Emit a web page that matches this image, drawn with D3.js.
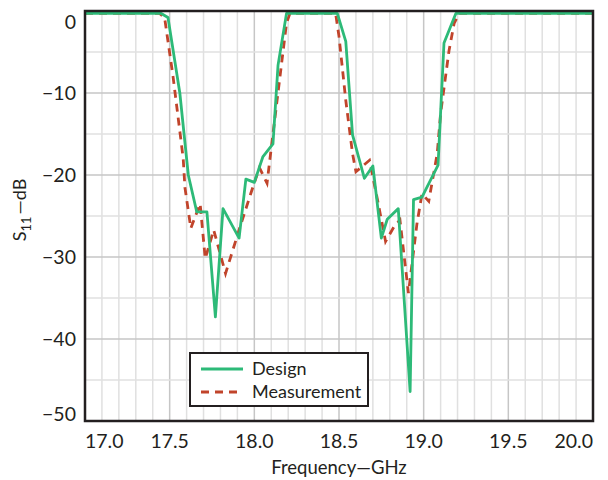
<!DOCTYPE html>
<html>
<head>
<meta charset="utf-8">
<script src="https://cdn.jsdelivr.net/npm/d3@7"></script>
<style>
  body { margin: 0; background: #fff; }
  svg text { font-family: Lato, "Liberation Sans", sans-serif; fill: #231f20; }
</style>
</head>
<body>
<div id="chart"></div>
<script>
// S11 response (GHz, dB)
const designFreq = [17.00, 17.45, 17.49, 17.56, 17.585, 17.61, 17.66, 17.72, 17.77, 17.815, 17.91, 17.95, 18.00, 18.05, 18.11, 18.14, 18.19,
  18.49, 18.54, 18.58, 18.65, 18.70, 18.75, 18.785, 18.85, 18.92, 18.94, 18.99, 19.085, 19.12, 19.19, 20.00]
const designS11 = [-0.3, -0.3, -0.8, -10, -15, -20, -24.5, -24.5, -37.3, -24.1, -27.7, -20.5, -20.9, -17.8, -16.2, -6.6, -0.3,
  -0.3, -3.7, -15.1, -20.4, -18.9, -27.7, -25.4, -24.1, -46.4, -23.0, -22.7, -18.8, -3.9, -0.3, -0.3]

const measFreq = [17.00, 17.44, 17.47, 17.52, 17.58, 17.59, 17.625, 17.68, 17.71, 17.76, 17.83, 17.91, 17.98, 18.03, 18.075, 18.11, 18.19, 18.21,
  18.48, 18.50, 18.54, 18.58, 18.60, 18.68, 18.73, 18.775, 18.825, 18.86, 18.91, 18.96, 18.99, 19.03, 19.08, 19.10, 19.15, 19.18, 19.21, 20.00]
const measS11 = [-0.3, -0.3, -0.8, -8, -18, -21.5, -26.5, -23.5, -30.2, -26.7, -32, -26.7, -22.2, -19.1, -21, -15, -1.5, -0.3,
  -0.3, -3.1, -10.9, -17.4, -19.6, -18.2, -23.3, -28.1, -26.3, -25.5, -34.4, -26, -22.3, -23.2, -17.4, -12.5, -4.8, -1.5, -0.3, -0.3]

const xTicks = [17.0, 17.5, 18.0, 18.5, 19.0, 19.5, 20.0]
const yTicks = [0, -10, -20, -30, -40, -50]

const W = 608, H = 480
const margin = {top: 11, right: 15, bottom: 59, left: 85}

const svg = d3.select('#chart').append('svg')
  .attr('width', W)
  .attr('height', H)

const x = d3.scaleLinear().domain([17, 20]).range([margin.left, W - margin.right])
const y = d3.scaleLinear().domain([-50, 0]).range([H - margin.bottom, margin.top])

// grid: light every 0.1 GHz / 5 dB, a bit darker on the labelled ticks
const grid = svg.append('g')
grid.selectAll('line.vx')
  .data(d3.range(171, 200).map(d => d / 10))
  .enter().append('line')
  .attr('x1', d => x(d)).attr('x2', d => x(d))
  .attr('y1', y(0)).attr('y2', y(-50))
  .attr('stroke', d => Math.abs(d * 2 - Math.round(d * 2)) < 1e-6 ? '#c6c6c6' : '#e0e0e0')
  .attr('stroke-width', 1.5)
grid.selectAll('line.hy')
  .data([-5, -10, -15, -20, -25, -30, -35, -40, -45])
  .enter().append('line')
  .attr('x1', x(17)).attr('x2', x(20))
  .attr('y1', d => y(d)).attr('y2', d => y(d))
  .attr('stroke', d => d % 10 === 0 ? '#c6c6c6' : '#e0e0e0')
  .attr('stroke-width', 1.5)

// curves
const line = d3.line().x(d => x(d[0])).y(d => y(d[1]))

svg.append('path')
  .datum(measFreq.map((f, i) => [f, measS11[i]]))
  .attr('d', line)
  .attr('fill', 'none')
  .attr('stroke', '#c1442b')
  .attr('stroke-width', 2.8)
  .attr('stroke-dasharray', '8,6')

svg.append('path')
  .datum(designFreq.map((f, i) => [f, designS11[i]]))
  .attr('d', line)
  .attr('fill', 'none')
  .attr('stroke', '#2dba78')
  .attr('stroke-width', 2.8)
  .attr('stroke-linejoin', 'round')

// frame
svg.append('rect')
  .attr('x', x(17)).attr('y', y(0))
  .attr('width', x(20) - x(17)).attr('height', y(-50) - y(0))
  .attr('fill', 'none')
  .attr('stroke', '#231f20')
  .attr('stroke-width', 2.5)

// tick labels (end ones pulled inside like the original)
const fmtX = d3.format('.1f')
svg.append('g').selectAll('text')
  .data(xTicks)
  .enter().append('text')
  .attr('x', d => x(d))
  .attr('y', H - margin.bottom + 27)
  .attr('text-anchor', (d, i) => i === 0 ? 'start' : i === xTicks.length - 1 ? 'end' : 'middle')
  .style('font-size', '19.5px')
  .text(d => fmtX(d))

svg.append('g').selectAll('text')
  .data(yTicks)
  .enter().append('text')
  .attr('x', margin.left - 9)
  .attr('y', d => y(d))
  .attr('dy', (d, i) => i === 0 ? '0.9em' : i === yTicks.length - 1 ? '0' : '0.36em')
  .attr('text-anchor', 'end')
  .style('font-size', '19.5px')
  .text(d => d === 0 ? '0' : '\u2212' + Math.abs(d))

// axis titles
svg.append('text')
  .attr('x', (x(17) + x(20)) / 2)
  .attr('y', H - 6)
  .attr('text-anchor', 'middle')
  .style('font-size', '18.5px')
  .text('Frequency\u2014GHz')

const yTitle = svg.append('text')
  .attr('transform', 'translate(26,' + 210 + ') rotate(-90)')
  .attr('text-anchor', 'middle')
  .style('font-size', '18px')
yTitle.append('tspan').text('S')
yTitle.append('tspan').attr('dy', 5).style('font-size', '13px').text('11')
yTitle.append('tspan').attr('dy', -5).attr('dx', 2).text('\u2014dB')

// legend
const legend = svg.append('g').attr('transform', 'translate(190,353)')
legend.append('rect')
  .attr('width', 178).attr('height', 53)
  .attr('fill', '#fff')
  .attr('stroke', '#231f20')
  .attr('stroke-width', 2)
const items = [
  {name: 'Design', color: '#2dba78', dash: null},
  {name: 'Measurement', color: '#c1442b', dash: '8,6'}
]
items.forEach((it, i) => {
  const yy = 16 + i * 23
  legend.append('line')
    .attr('x1', 11).attr('x2', 53)
    .attr('y1', yy).attr('y2', yy)
    .attr('stroke', it.color)
    .attr('stroke-width', 2.8)
    .attr('stroke-dasharray', it.dash)
  legend.append('text')
    .attr('x', 62).attr('y', yy)
    .attr('dy', '0.36em')
    .style('font-size', '18px')
    .text(it.name)
})
</script>
</body>
</html>
